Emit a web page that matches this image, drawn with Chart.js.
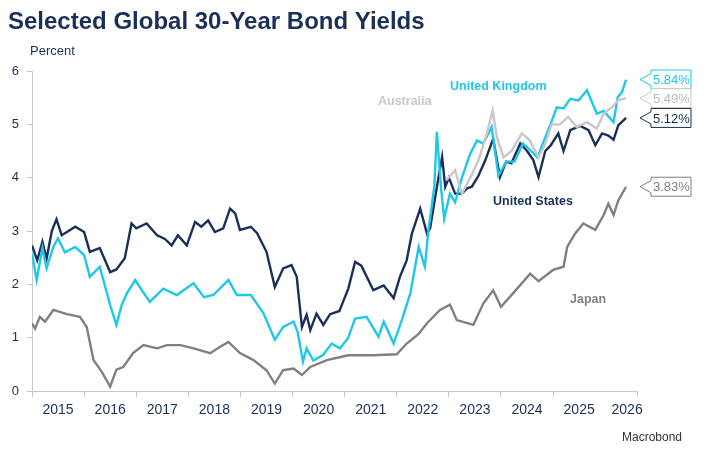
<!DOCTYPE html>
<html><head><meta charset="utf-8">
<script src="https://cdn.jsdelivr.net/npm/chart.js@4"></script>
<style>html,body{margin:0;padding:0;background:#fff}#w{width:704px;height:451px}</style>
</head><body><div id="w"><canvas id="c"></canvas></div>
<script>
const yearLabels=['2015','2016','2017','2018','2019','2020','2021','2022','2023','2024','2025','2026'];
const yTicks=[0,1,2,3,4,5,6];
const usX=[2015.0,2015.1,2015.2,2015.28,2015.38,2015.47,2015.57,2015.7,2015.83,2016.0,2016.11,2016.3,2016.5,2016.62,2016.78,2016.91,2017.0,2017.2,2017.4,2017.55,2017.68,2017.8,2017.97,2018.13,2018.25,2018.38,2018.51,2018.67,2018.8,2018.9,2018.99,2019.2,2019.32,2019.5,2019.66,2019.82,2019.98,2020.08,2020.18,2020.27,2020.34,2020.46,2020.59,2020.72,2020.9,2020.98,2021.07,2021.2,2021.32,2021.55,2021.75,2021.94,2022.06,2022.19,2022.29,2022.45,2022.58,2022.64,2022.77,2022.87,2022.93,2023.0,2023.12,2023.25,2023.35,2023.44,2023.57,2023.7,2023.85,2023.98,2024.1,2024.2,2024.37,2024.5,2024.62,2024.72,2024.85,2024.95,2025.1,2025.2,2025.33,2025.52,2025.68,2025.81,2025.94,2026.06,2026.16,2026.25,2026.4];
const usY=[2.73,2.45,2.8,2.48,3.0,3.22,2.92,3.0,3.08,2.98,2.61,2.68,2.23,2.28,2.49,3.14,3.05,3.14,2.92,2.85,2.73,2.92,2.73,3.17,3.08,3.2,2.98,3.05,3.42,3.33,3.02,3.08,2.96,2.61,1.95,2.3,2.36,2.14,1.2,1.43,1.14,1.45,1.24,1.44,1.5,1.7,1.92,2.42,2.35,1.89,1.98,1.74,2.14,2.45,2.95,3.42,2.95,3.05,3.83,4.39,3.83,4.0,3.7,3.7,3.8,3.83,4.04,4.33,4.73,4.01,4.3,4.27,4.64,4.5,4.33,4.01,4.5,4.6,4.83,4.5,4.89,4.97,4.89,4.61,4.83,4.79,4.71,4.98,5.12];
const ukX=[2015.0,2015.09,2015.2,2015.28,2015.41,2015.5,2015.63,2015.83,2016.0,2016.11,2016.3,2016.5,2016.62,2016.72,2016.82,2016.98,2017.1,2017.26,2017.52,2017.78,2018.1,2018.3,2018.48,2018.77,2018.93,2019.2,2019.44,2019.66,2019.82,2020.02,2020.1,2020.2,2020.27,2020.4,2020.59,2020.75,2020.91,2021.07,2021.2,2021.42,2021.65,2021.75,2021.94,2022.1,2022.26,2022.42,2022.54,2022.6,2022.72,2022.77,2022.85,2022.91,2023.02,2023.12,2023.25,2023.41,2023.54,2023.66,2023.82,2023.95,2024.1,2024.26,2024.42,2024.58,2024.7,2024.85,2024.95,2025.07,2025.2,2025.33,2025.49,2025.65,2025.84,2025.97,2026.16,2026.24,2026.32,2026.4];
const ukY=[2.58,2.08,2.68,2.3,2.7,2.86,2.6,2.7,2.55,2.14,2.33,1.61,1.24,1.61,1.83,2.08,1.9,1.67,1.92,1.8,2.02,1.76,1.8,2.08,1.8,1.8,1.46,0.96,1.2,1.3,1.1,0.55,0.8,0.57,0.68,0.89,0.8,1.0,1.36,1.39,1.02,1.3,0.89,1.34,1.83,2.7,2.33,2.95,3.83,4.86,3.8,3.23,3.7,3.54,4.0,4.45,4.7,4.64,4.95,4.04,4.3,4.3,4.64,4.5,4.38,4.76,5.0,5.32,5.3,5.48,5.45,5.64,5.2,5.25,5.04,5.51,5.6,5.84];
const auX=[2022.95,2023.12,2023.25,2023.41,2023.57,2023.73,2023.84,2023.92,2024.05,2024.2,2024.4,2024.55,2024.72,2024.85,2024.97,2025.13,2025.29,2025.45,2025.65,2025.84,2025.97,2026.13,2026.25,2026.4];
const auY=[3.95,4.14,3.7,4.0,4.33,4.83,5.26,4.76,4.38,4.5,4.83,4.7,4.38,4.64,5.0,5.0,5.14,4.95,5.04,4.92,5.2,5.32,5.45,5.49];
const jpX=[2015.0,2015.06,2015.15,2015.25,2015.41,2015.67,2015.92,2016.05,2016.18,2016.34,2016.5,2016.62,2016.75,2016.94,2017.14,2017.4,2017.59,2017.85,2018.1,2018.42,2018.61,2018.77,2018.99,2019.25,2019.5,2019.66,2019.82,2020.02,2020.18,2020.34,2020.66,2021.07,2021.55,2022.0,2022.19,2022.42,2022.58,2022.83,2023.02,2023.15,2023.47,2023.66,2023.85,2024.0,2024.23,2024.56,2024.72,2025.0,2025.2,2025.27,2025.42,2025.58,2025.81,2025.97,2026.06,2026.16,2026.25,2026.4];
const jpY=[1.27,1.17,1.39,1.3,1.52,1.44,1.39,1.2,0.58,0.36,0.08,0.4,0.45,0.71,0.86,0.8,0.86,0.86,0.8,0.71,0.83,0.92,0.71,0.58,0.39,0.14,0.39,0.42,0.3,0.45,0.58,0.67,0.67,0.69,0.89,1.07,1.27,1.52,1.62,1.33,1.24,1.64,1.89,1.58,1.83,2.2,2.06,2.27,2.33,2.7,2.95,3.14,3.02,3.3,3.51,3.3,3.57,3.83];
const tags=[{t:'5.84%',v:5.84,c:'#1fc8e8'},{t:'5.49%',v:5.49,c:'#c8c8c8'},{t:'5.12%',v:5.12,c:'#1a3058'},{t:'3.83%',v:3.83,c:'#808080'}];
const tagTextColors=['#1fc8e8','#b8b8b8','#1a3058','#808080'];

const zip=(xs,ys)=>xs.map((x,i)=>({x,y:ys[i]}));
const ds=(label,xs,ys,color)=>({label,data:zip(xs,ys),borderColor:color,borderWidth:2.4,pointRadius:0,tension:0,fill:false});

const deco={id:'deco',afterDraw(ch){
  const c=ch.ctx,xs=ch.scales.x,ys=ch.scales.y;
  c.save();
  c.fillStyle='#1a3058';c.font='bold 24px "Liberation Sans",Arial';c.textBaseline='alphabetic';c.textAlign='left';
  c.fillText('Selected Global 30-Year Bond Yields',8,29);
  c.font='13px "Liberation Sans",Arial';c.fillStyle='#1a3058';c.fillText('Percent',30,55);
  c.fillStyle='#333';c.font='12px "Liberation Sans",Arial';c.fillText('Macrobond',622,441);
  c.font='14px "Liberation Sans",Arial';c.fillStyle='#1a3058';c.textAlign='center';
  yearLabels.forEach((l,i)=>{let v=2015+i+0.5;if(i===11)v=2026.42;c.fillText(l,xs.getPixelForValue(v),414);});
  c.font='bold 12.5px "Liberation Sans",Arial';c.textAlign='left';
  c.fillStyle='#1fc8e8';c.fillText('United Kingdom',450,90);
  c.fillStyle='#c8c8c8';c.fillText('Australia',378,105);
  c.fillStyle='#1a3058';c.fillText('United States',493,205);
  c.fillStyle='#808080';c.fillText('Japan',570,303);
  c.font='13px "Liberation Sans",Arial';
  tags.forEach((g,i)=>{const y=ys.getPixelForValue(g.v);const x0=640,x1=691,bx=651,h=19;
    c.beginPath();c.moveTo(x0,y);c.lineTo(bx,y-6);c.lineTo(bx,y-h/2);c.lineTo(x1,y-h/2);c.lineTo(x1,y+h/2);c.lineTo(bx,y+h/2);c.lineTo(bx,y+6);c.closePath();
    c.fillStyle='#fff';c.fill();c.strokeStyle=g.c;c.lineWidth=1;c.stroke();
    c.fillStyle=tagTextColors[i];c.textBaseline='middle';c.fillText(g.t,653,y+1);});
  c.restore();
}};

new Chart(document.getElementById('c'),{type:'line',
 data:{datasets:[ds('Japan',jpX,jpY,'#808080'),ds('Australia',auX,auY,'#c8c8c8'),ds('United Kingdom',ukX,ukY,'#1fc8e8'),ds('United States',usX,usY,'#1a3058')]},
 options:{responsive:true,maintainAspectRatio:false,animation:false,
  layout:{padding:{left:0,top:71,right:67,bottom:60}},
  plugins:{legend:{display:false},tooltip:{enabled:false}},
  scales:{
   x:{type:'linear',min:2015,max:2026.61,afterFit(s){s.height=0;},
      ticks:{display:false,stepSize:1},
      grid:{drawOnChartArea:false,tickLength:6,color:'#c8c8c8'},border:{color:'#c8c8c8'}},
   y:{min:0,max:6,afterFit(s){s.width=32;},
      afterBuildTicks(s){s.ticks=yTicks.map(v=>({value:v}));},
      ticks:{color:'#1a3058',font:{size:13,family:'"Liberation Sans",Arial'},padding:8},
      grid:{drawOnChartArea:false,tickLength:5,color:'#c8c8c8'},border:{color:'#c8c8c8'}}
  }},
 plugins:[deco]});
</script></body></html>
